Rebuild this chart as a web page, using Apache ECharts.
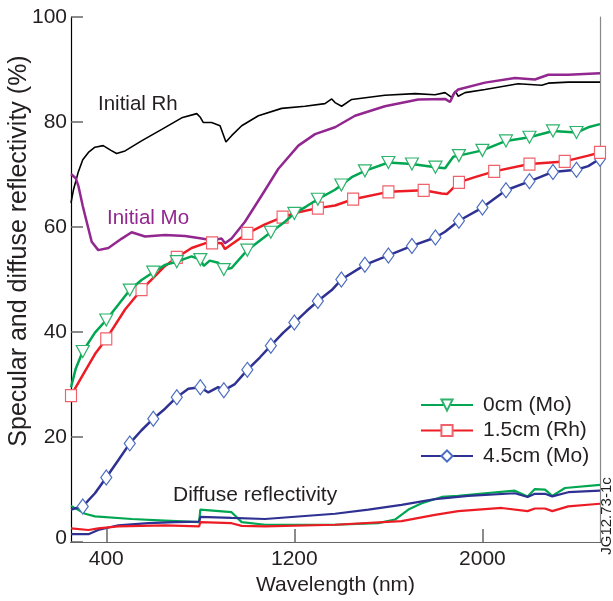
<!DOCTYPE html>
<html>
<head>
<meta charset="utf-8">
<script src="https://cdn.jsdelivr.net/npm/echarts@6/dist/echarts.min.js"></script>
<style>
  html, body { margin: 0; padding: 0; background: #fff; }
  #chart { width: 613px; height: 601px; }
</style>
</head>
<body>
<div id="chart"></div>
<script>
// wavelength (nm) / reflectivity (%) pairs
const initialRh = [
  [250, 64.6], [260, 67.0], [281, 70.5], [300, 72.8], [324, 74.2], [352, 75.2], [387, 75.5],
  [420, 74.6], [444, 74.0], [480, 74.5], [550, 76.4], [636, 78.6], [721, 80.8], [785, 81.6],
  [800, 80.9], [813, 79.9], [848, 79.9], [884, 79.3], [909, 76.2], [933, 77.4], [976, 79.3],
  [1047, 81.2], [1146, 82.6], [1245, 83.0], [1330, 83.5], [1359, 84.4], [1373, 83.7],
  [1401, 83.0], [1444, 84.3], [1585, 85.1], [1713, 85.4], [1798, 85.2], [1841, 85.6],
  [1869, 84.7], [1885, 85.9], [1897, 84.9], [1926, 85.6], [2011, 86.2], [2152, 87.3],
  [2252, 87.0], [2280, 87.4], [2365, 87.6], [2500, 87.6]
];
const initialMo = [
  [250, 70.1], [270, 69.3], [281, 67.9], [300, 64.0], [310, 62.2], [338, 57.2], [366, 55.6],
  [409, 56.0], [466, 57.8], [508, 59.0], [565, 58.2], [650, 58.5], [735, 58.3], [806, 57.8],
  [848, 57.5], [891, 57.8], [905, 56.9], [933, 57.8], [990, 61.0], [1061, 66.0], [1132, 71.1],
  [1217, 75.5], [1288, 77.7], [1373, 79.0], [1458, 81.2], [1585, 83.0], [1727, 84.3],
  [1841, 84.4], [1862, 83.8], [1880, 85.5], [1897, 86.2], [2011, 87.5], [2138, 88.4],
  [2223, 88.1], [2280, 89.0], [2365, 89.0], [2500, 89.3]
];
const spec0cm = [
  [250, 29.5], [270, 33.0], [300, 36.3], [352, 39.9], [400, 42.3], [451, 45.2], [500, 48.0],
  [550, 49.9], [600, 51.4], [650, 52.8], [700, 53.4], [763, 54.4], [800, 53.8], [815, 52.6],
  [840, 53.6], [876, 53.2], [900, 51.9], [933, 52.2], [1000, 55.6], [1047, 57.2], [1100, 59.0],
  [1160, 61.0], [1200, 62.6], [1250, 63.9], [1300, 65.3], [1373, 67.1], [1400, 68.0],
  [1444, 69.5], [1500, 70.7], [1600, 72.3], [1700, 72.0], [1800, 71.4], [1841, 71.2],
  [1876, 73.4], [1900, 73.6], [2000, 74.6], [2100, 76.4], [2200, 77.1], [2300, 78.3],
  [2400, 78.0], [2450, 79.0], [2500, 79.6]
];
const spec15cm = [
  [250, 27.9], [295, 31.4], [352, 35.8], [400, 38.7], [480, 44.3], [550, 48.1], [600, 50.3],
  [650, 52.6], [700, 54.2], [763, 56.0], [820, 56.9], [850, 57.0], [891, 56.9], [905, 55.8],
  [1000, 58.8], [1075, 60.5], [1150, 61.9], [1217, 62.8], [1300, 63.6], [1373, 64.1],
  [1450, 65.3], [1600, 66.7], [1750, 67.0], [1826, 66.4], [1850, 66.3], [1900, 68.5],
  [1968, 69.5], [2050, 70.6], [2200, 72.0], [2350, 72.5], [2450, 73.6], [2500, 74.2]
];
const spec45cm = [
  [250, 6.2], [300, 6.8], [352, 9.3], [400, 12.3], [451, 15.6], [500, 18.8], [550, 21.3],
  [600, 23.5], [650, 25.4], [700, 27.6], [749, 29.2], [800, 29.5], [834, 28.5], [876, 29.5],
  [900, 28.9], [947, 30.1], [1000, 32.8], [1054, 35.2], [1100, 37.4], [1153, 39.9],
  [1200, 41.8], [1252, 44.0], [1300, 45.9], [1359, 48.0], [1400, 50.0], [1500, 52.8],
  [1600, 54.6], [1700, 56.4], [1800, 58.0], [1841, 59.1], [1900, 61.2], [2000, 63.7],
  [2100, 67.0], [2200, 68.7], [2300, 70.5], [2400, 70.9], [2450, 71.6], [2500, 73.0]
];
const diffuse0cm = [
  [250, 6.9], [310, 5.4], [352, 4.9], [508, 4.4], [650, 4.1], [795, 3.8], [800, 6.2],
  [933, 5.7], [976, 3.8], [1075, 3.3], [1373, 3.3], [1557, 3.6], [1628, 4.3], [1685, 6.2],
  [1742, 7.4], [1827, 8.6], [1897, 8.8], [2011, 9.3], [2138, 9.8], [2192, 8.7], [2223, 10.1],
  [2266, 10.0], [2297, 8.8], [2351, 10.3], [2500, 10.9]
];
const diffuse15cm = [
  [250, 2.6], [324, 2.3], [366, 2.6], [451, 3.0], [650, 3.2], [795, 3.0], [800, 3.8],
  [933, 3.6], [976, 3.1], [1075, 3.0], [1373, 3.3], [1656, 4.0], [1798, 5.2], [1897, 5.9],
  [2082, 6.5], [2192, 5.9], [2223, 6.4], [2266, 6.4], [2297, 5.9], [2365, 6.8], [2500, 7.3]
];
const diffuse45cm = [
  [250, 1.5], [324, 1.5], [366, 2.3], [451, 3.2], [579, 3.6], [692, 3.8], [795, 3.9],
  [800, 4.8], [933, 4.6], [1075, 4.4], [1373, 5.4], [1515, 6.2], [1656, 7.1], [1798, 8.2],
  [1940, 8.8], [2138, 9.3], [2192, 8.6], [2223, 9.2], [2266, 9.2], [2297, 8.7], [2365, 9.5],
  [2500, 9.8]
];

// wavelengths where the open markers sit
const markers0cm = [300, 400, 500, 600, 700, 800, 900, 1000, 1100, 1200, 1300, 1400, 1500,
  1600, 1700, 1800, 1900, 2000, 2100, 2200, 2300, 2400];
const markers15cm = [250, 400, 550, 700, 850, 1000, 1150, 1300, 1450, 1600, 1750, 1900,
  2050, 2200, 2350, 2500];
const markers45cm = [300, 400, 500, 600, 700, 800, 900, 1000, 1100, 1200, 1300, 1400, 1500,
  1600, 1700, 1800, 1900, 2000, 2100, 2200, 2300, 2400, 2500];

const xTicks = [400, 1200, 2000];

const FONT = 'Liberation Sans, Arial, Helvetica, sans-serif';
const TXT = '#231f20';

function withMarkers(points, marks) {
  return points.map(p => marks.includes(p[0]) ? p : { value: p, symbol: 'none' });
}

function plain(name, data, color, width) {
  return {
    name: name, type: 'line', data: data, symbol: 'none', silent: true,
    lineStyle: { color: color, width: width }, z: 2
  };
}

const chart = echarts.init(document.getElementById('chart'));

const option = {
  animation: false,
  backgroundColor: '#fff',
  textStyle: { fontFamily: FONT },
  grid: { left: 71, right: 13, top: 17, bottom: 55, containLabel: false },
  legend: {
    data: ['0cm (Mo)', '1.5cm (Rh)', '4.5cm (Mo)'],
    orient: 'vertical',
    left: 415,
    top: 389,
    itemWidth: 52,
    itemHeight: 14,
    itemGap: 3.5,
    textStyle: { fontSize: 21, color: TXT, fontFamily: FONT, lineHeight: 22, padding: [0, 0, 0, 5] }
  },
  xAxis: [
    {
      type: 'value', min: 250, max: 2500, position: 'bottom',
      name: 'Wavelength (nm)', nameLocation: 'middle', nameGap: 24,
      nameTextStyle: { fontSize: 21, color: TXT, fontFamily: FONT },
      axisLine: { lineStyle: { color: '#000', width: 1.2 } },
      axisTick: { customValues: xTicks, inside: true, length: 13, lineStyle: { color: '#666', width: 1.5 } },
      axisLabel: { customValues: xTicks, fontSize: 21, color: TXT, margin: 7, fontFamily: FONT,
        formatter: v => String(v) },
      splitLine: { show: false }
    },
    {
      type: 'value', min: 250, max: 2500, position: 'top',
      axisLine: { lineStyle: { color: '#666', width: 1.2 } },
      axisTick: { show: false }, axisLabel: { show: false }, splitLine: { show: false }
    }
  ],
  yAxis: [
    {
      type: 'value', min: 0, max: 100, interval: 20, position: 'left',
      axisLine: { show: true, lineStyle: { color: '#000', width: 1.2 } },
      axisTick: { show: true, inside: true, length: 12, lineStyle: { color: '#666', width: 1.5 } },
      axisLabel: {
        fontSize: 21, color: TXT, margin: 4, fontFamily: FONT,
        formatter: v => v === 0 ? '{z|0}' : String(v),
        rich: { z: { fontSize: 21, color: TXT, fontFamily: FONT, padding: [0, 0, 7, 0] } }
      },
      splitLine: { show: false }
    },
    {
      type: 'value', min: 0, max: 100, position: 'right',
      axisLine: { show: true, lineStyle: { color: '#888', width: 1.2 } },
      axisTick: { show: false }, axisLabel: { show: false }, splitLine: { show: false }
    }
  ],
  graphic: [
    {
      type: 'text', x: 19, y: 251, rotation: Math.PI / 2,
      style: { text: 'Specular and diffuse reflectivity (%)', fontSize: 25, fontFamily: FONT,
        fill: TXT, align: 'center', verticalAlign: 'middle' }
    },
    {
      type: 'text', x: 98, y: 104,
      style: { text: 'Initial Rh', fontSize: 20.5, fontFamily: FONT, fill: TXT, verticalAlign: 'middle' }
    },
    {
      type: 'text', x: 107, y: 218,
      style: { text: 'Initial Mo', fontSize: 20.5, fontFamily: FONT, fill: '#92278f', verticalAlign: 'middle' }
    },
    {
      type: 'text', x: 173, y: 495,
      style: { text: 'Diffuse reflectivity', fontSize: 21, fontFamily: FONT, fill: TXT, verticalAlign: 'middle' }
    },
    {
      type: 'text', x: 607, y: 516, rotation: Math.PI / 2,
      style: { text: 'JG12.73-1c', fontSize: 15, fontFamily: FONT, fill: TXT, align: 'center', verticalAlign: 'middle' }
    }
  ],
  series: [
    plain('Initial Rh', initialRh, '#000', 1.6),
    plain('Initial Mo', initialMo, '#92278f', 2.5),
    plain('diffuse 0cm', diffuse0cm, '#00a651', 2.2),
    plain('diffuse 4.5cm', diffuse45cm, '#2e3192', 2.2),
    plain('diffuse 1.5cm', diffuse15cm, '#ed1c24', 2.2),
    {
      name: '4.5cm (Mo)', type: 'line', z: 3,
      data: withMarkers(spec45cm, markers45cm),
      symbol: 'diamond', symbolSize: [11, 15],
      lineStyle: { color: '#2e3192', width: 2.5 },
      itemStyle: { color: '#fff', borderColor: '#4b6cc1', borderWidth: 1.2 }
    },
    {
      name: '1.5cm (Rh)', type: 'line', z: 4,
      data: withMarkers(spec15cm, markers15cm),
      symbol: 'rect', symbolSize: [11, 12],
      lineStyle: { color: '#ed1c24', width: 2.5 },
      itemStyle: { color: '#fff', borderColor: '#f0616b', borderWidth: 1.2 }
    },
    {
      name: '0cm (Mo)', type: 'line', z: 5,
      data: withMarkers(spec0cm, markers0cm),
      symbol: 'triangle', symbolRotate: 180, symbolSize: [13, 12],
      lineStyle: { color: '#00a651', width: 2.5 },
      itemStyle: { color: '#fff', borderColor: '#2db36b', borderWidth: 1.2 }
    }
  ]
};

chart.setOption(option);
window.addEventListener('resize', () => chart.resize());
</script>
</body>
</html>
